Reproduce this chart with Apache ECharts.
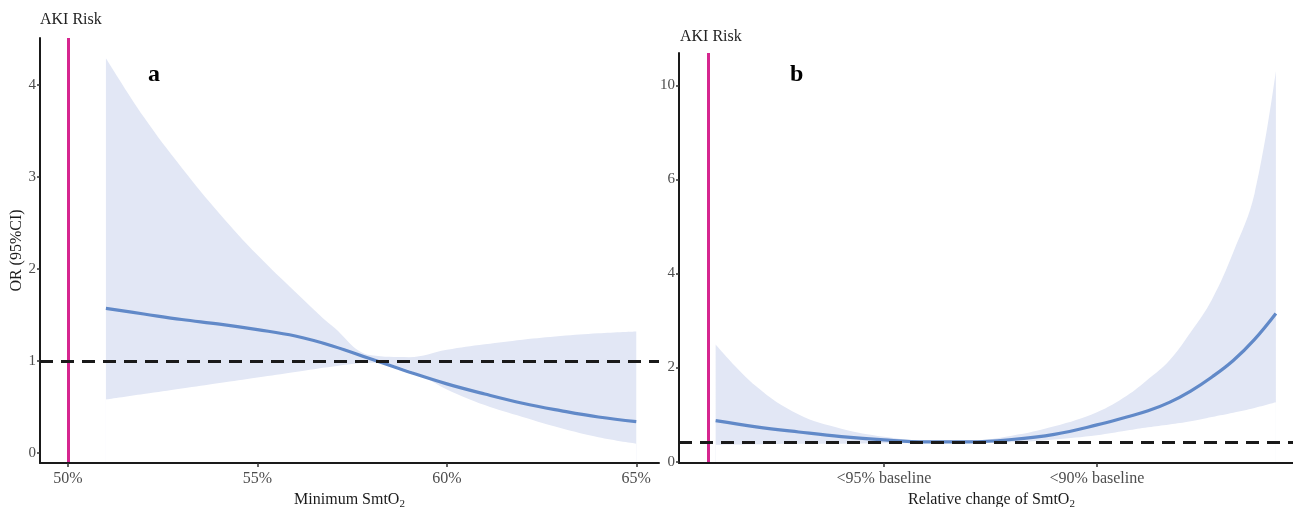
<!DOCTYPE html>
<html>
<head>
<meta charset="utf-8">
<title>AKI risk vs SmtO2</title>
<script src="https://cdn.jsdelivr.net/npm/echarts@6/dist/echarts.min.js"></script>
<style>
  html, body { margin: 0; padding: 0; background: #fff; }
  #chart { width: 1293px; height: 507px; }
</style>
</head>
<body>
<div id="chart"></div>
<script>
// panel a - minimum SmtO2 (%)
var xA   = [51, 52, 53, 54, 55, 56, 57, 58, 59, 60, 61, 62, 63, 64, 65];
var orA  = [1.57, 1.51, 1.45, 1.40, 1.34, 1.27, 1.16, 1.02, 0.88, 0.75, 0.64, 0.54, 0.46, 0.39, 0.34];
var upA  = [4.29, 3.65, 3.10, 2.60, 2.15, 1.75, 1.37, 1.06, 1.04, 1.12, 1.18, 1.23, 1.27, 1.30, 1.32];
var loA  = [0.58, 0.64, 0.70, 0.76, 0.82, 0.88, 0.94, 0.98, 0.90, 0.69, 0.52, 0.39, 0.27, 0.17, 0.10];
var xTicksA = [50, 55, 60, 65];
var yTicksA = [0, 1, 2, 3, 4];
var akiA = 50;
var refA = 1;

// panel b - relative change of SmtO2 (drop from baseline, %)
var xB   = [1.05, 2, 3, 4, 5, 6, 7, 8, 9, 10, 10.7, 11.2, 11.7, 12.2, 12.7, 13.2, 13.7, 14.2];
var orB  = [0.87, 0.74, 0.63, 0.53, 0.46, 0.42, 0.42, 0.47, 0.58, 0.78, 0.95, 1.08, 1.26, 1.50, 1.80, 2.15, 2.60, 3.15];
var upB  = [2.49, 1.60, 1.00, 0.70, 0.53, 0.45, 0.45, 0.55, 0.75, 1.05, 1.40, 1.75, 2.15, 2.75, 3.45, 4.45, 5.70, 8.30];
var loB  = [0.36, 0.37, 0.38, 0.38, 0.39, 0.39, 0.39, 0.41, 0.47, 0.56, 0.66, 0.73, 0.79, 0.86, 0.95, 1.04, 1.14, 1.26];
var xTicksB = [5, 10];
var xLabelsB = { 5: '<95% baseline', 10: '<90% baseline' };
var yTicksB = [0, 2, 4, 6, 8];
var yLabelsB = { 0: '0', 2: '2', 4: '4', 6: '6', 8: '10' };
var akiB = 0.87;
var refB = 0.42;

var FONT = '"Liberation Serif", "DejaVu Serif", serif';
var BAND = '#e2e7f5';
var LINE = '#6189c8';
var AKI = '#d6268f';

function pairs(xs, ys) {
    return xs.map(function (x, i) { return [x, ys[i]]; });
}

function xAxis(idx, min, max, ticks, fmt, name) {
    return {
        type: 'value', gridIndex: idx, min: min, max: max, z: 5,
        splitLine: { show: false },
        axisLine: { onZero: false, lineStyle: { color: '#1a1a1a', width: 2 } },
        axisTick: { customValues: ticks, length: 4, lineStyle: { color: '#333', width: 1.5 } },
        axisLabel: { customValues: ticks, formatter: fmt, color: '#4d4d4d', fontSize: 16, fontFamily: FONT, margin: 8 },
        name: name, nameLocation: 'middle', nameGap: 24,
        nameTextStyle: {
            color: '#1a1a1a', fontSize: 16, fontFamily: FONT,
            rich: { sub: { fontSize: 11, fontFamily: FONT, color: '#1a1a1a', verticalAlign: 'bottom', padding: [8, 0, 0, 0] } }
        }
    };
}

function yAxis(idx, min, max, ticks, fmt, name) {
    return {
        type: 'value', gridIndex: idx, min: min, max: max, z: 5,
        splitLine: { show: false },
        axisLine: { show: true, onZero: false, lineStyle: { color: '#1a1a1a', width: 2 } },
        axisTick: { show: true, customValues: ticks, length: 3, lineStyle: { color: '#333', width: 1.5 } },
        axisLabel: { customValues: ticks, formatter: fmt, color: '#4d4d4d', fontSize: 15, fontFamily: FONT, margin: 4 },
        name: name, nameLocation: 'middle', nameGap: 9,
        nameTextStyle: { color: '#1a1a1a', fontSize: 16, fontFamily: FONT }
    };
}

// the CI band: upper bound filled in band colour, then the area under the
// lower bound painted white on top of it
function panelSeries(idx, xs, or, lo, up, aki, ref) {
    return [
        {
            type: 'line', xAxisIndex: idx, yAxisIndex: idx,
            data: pairs(xs, up), smooth: 0.4, symbol: 'none', silent: true,
            lineStyle: { opacity: 0 }, areaStyle: { color: BAND, opacity: 1, origin: 'start' }, z: 1
        },
        {
            type: 'line', xAxisIndex: idx, yAxisIndex: idx,
            data: pairs(xs, lo), smooth: 0.4, symbol: 'none', silent: true,
            lineStyle: { opacity: 0 }, areaStyle: { color: '#fff', opacity: 1, origin: 'start' }, z: 1
        },
        {
            type: 'line', xAxisIndex: idx, yAxisIndex: idx,
            data: pairs(xs, or), smooth: 0.4, symbol: 'none', silent: true,
            lineStyle: { color: LINE, width: 3.2 }, z: 2
        },
        {
            type: 'line', xAxisIndex: idx, yAxisIndex: idx, data: [], silent: true, z: 3,
            markLine: {
                silent: true, symbol: 'none', animation: false, label: { show: false },
                data: [
                    { xAxis: aki, lineStyle: { color: AKI, width: 3, type: 'solid', opacity: 1 } },
                    { yAxis: ref, lineStyle: { color: '#1a1a1a', width: 3, type: [13, 8], opacity: 1 } }
                ]
            }
        }
    ];
}

var chart = echarts.init(document.getElementById('chart'));

chart.setOption({
    animation: false,
    backgroundColor: '#fff',
    grid: [
        { left: 40, top: 38, width: 619, height: 425, outerBoundsMode: 'none', containLabel: false },
        { left: 679, top: 53, width: 625, height: 410, outerBoundsMode: 'none', containLabel: false }
    ],
    xAxis: [
        xAxis(0, 49.26, 65.6, xTicksA, function (v) { return v + '%'; }, 'Minimum SmtO{sub|2}'),
        xAxis(1, 0.19, 14.86, xTicksB, function (v) { return xLabelsB[v] || ''; }, 'Relative change of SmtO{sub|2}')
    ],
    yAxis: [
        yAxis(0, -0.11, 4.51, yTicksA, function (v) { return String(v); }, 'OR (95%CI)'),
        yAxis(1, -0.03, 8.69, yTicksB, function (v) { return yLabelsB[v] || ''; }, '')
    ],
    series: panelSeries(0, xA, orA, loA, upA, akiA, refA)
        .concat(panelSeries(1, xB, orB, loB, upB, akiB, refB)),
    graphic: [
        { type: 'text', left: 40, top: 12, style: { text: 'AKI Risk', font: '16px ' + FONT, fill: '#222' } },
        { type: 'text', left: 680, top: 29, style: { text: 'AKI Risk', font: '16px ' + FONT, fill: '#222' } },
        { type: 'text', left: 148, top: 63, style: { text: 'a', font: 'bold 24px ' + FONT, fill: '#000' } },
        { type: 'text', left: 790, top: 63, style: { text: 'b', font: 'bold 24px ' + FONT, fill: '#000' } }
    ]
});
</script>
</body>
</html>
